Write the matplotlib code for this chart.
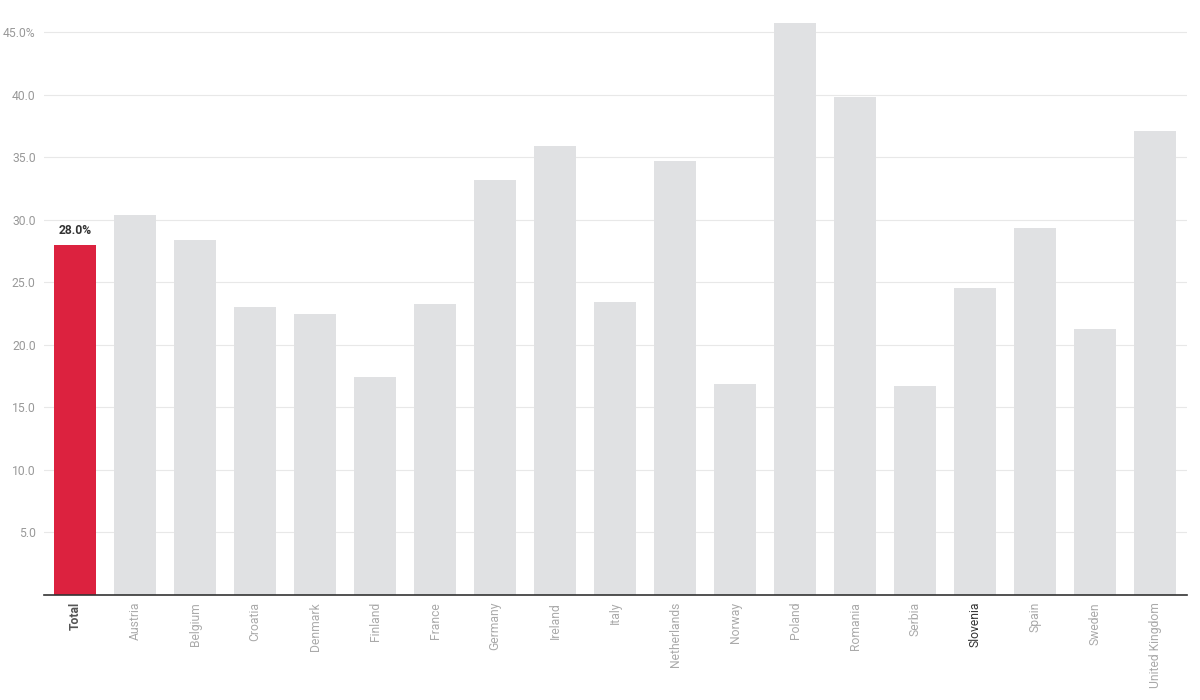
import numpy as np
import matplotlib.pyplot as plt

plt.rcParams['font.family'] = ['Roboto', 'DejaVu Sans']

# Data
countries = ["Total", "Austria", "Belgium", "Croatia", "Denmark", "Finland",
             "France", "Germany", "Ireland", "Italy", "Netherlands", "Norway",
             "Poland", "Romania", "Serbia", "Slovenia", "Spain", "Sweden",
             "United Kingdom"]
values = [28.0, 30.4, 28.4, 23.0, 22.5, 17.4, 23.3, 33.2, 35.9, 23.4,
          34.7, 16.9, 45.7, 39.8, 16.7, 24.5, 29.3, 21.3, 37.1]
yticks = [5, 10, 15, 20, 25, 30, 35, 40, 45]
ytick_labels = ["5.0", "10.0", "15.0", "20.0", "25.0", "30.0", "35.0", "40.0", "45.0%"]

fig = plt.figure(figsize=(12, 7), dpi=100)
ax = fig.add_axes([44 / 1200, 0.15, (1187 - 44) / 1200, 0.84])

x = np.arange(len(countries))
colors = ["#dc223f" if c == "Total" else "#e0e1e3" for c in countries]
ax.bar(x, values, width=0.7, color=colors, linewidth=0, zorder=2)

ax.text(x[0], values[0] + 0.6, "28.0%", ha="center", va="bottom",
        fontsize=8.7, fontweight="bold", color="#333333")

ax.set_xlim(-0.52, len(countries) - 1 + 0.53)
ax.set_ylim(0, 47)
ax.set_yticks(yticks)
ax.set_yticklabels(ytick_labels)
ax.yaxis.grid(True, color="#e8e8e8", linewidth=0.8, zorder=0)
ax.set_axisbelow(True)

ax.set_xticks(x)
ax.set_xticklabels(countries, rotation=90, va="top", ha="center")
for lbl, name in zip(ax.get_xticklabels(), countries):
    if name == "Total":
        lbl.set_color("#555555")
        lbl.set_fontweight("bold")
    elif name == "Slovenia":
        lbl.set_color("#333333")
    else:
        lbl.set_color("#aaaaaa")

ax.tick_params(axis="x", length=0, pad=5, labelsize=8.7)
ax.tick_params(axis="y", length=0, pad=6, labelsize=8.7, labelcolor="#999999")

for side in ["top", "right", "left"]:
    ax.spines[side].set_visible(False)
ax.spines["bottom"].set_color("#333333")
ax.spines["bottom"].set_linewidth(1.2)
ax.spines["bottom"].set_zorder(3)

fig.savefig("out.png", dpi=100)
